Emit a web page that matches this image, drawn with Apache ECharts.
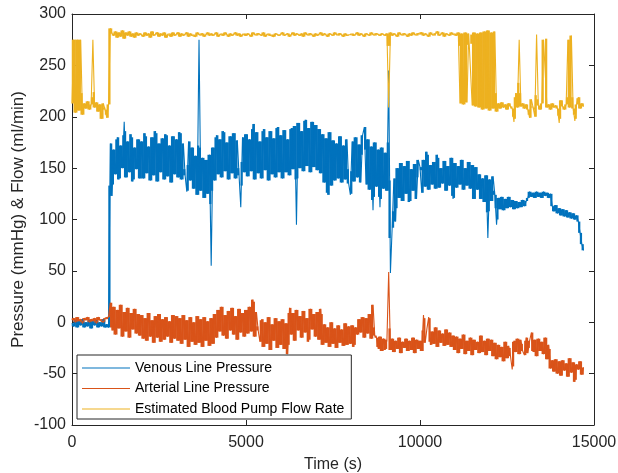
<!DOCTYPE html>
<html>
<head>
<meta charset="utf-8">
<script src="https://cdn.jsdelivr.net/npm/echarts@6/dist/echarts.min.js"></script>
<style>
html,body{margin:0;padding:0;background:#fff;}
#chart{width:618px;height:473px;}
</style>
</head>
<body>
<div id="chart"></div>
<script>
// Sampling interval of the recorded signals (seconds)
const sampleStep = 50;

const seriesNames = ['Venous Line Pressure', 'Arterial Line Pressure', 'Estimated Blood Pump Flow Rate'];
const xTicks = [0, 5000, 10000, 15000];
const yTicks = [-100, -50, 0, 50, 100, 150, 200, 250, 300];

// Venous line pressure (mmHg), one value per sample
const venous = [
  -1,-4,2,-5,1,-3,3,-5,0,-4,2,-6,1,-3,2,-5,0,-4,3,-5,
  -2,-5,174,123,168,144,180,139,172,150,195,141,176,146,183,137,170,149,178,140,
  176,140,184,145,171,138,180,143,186,137,174,146,179,139,183,142,172,136,181,144,
  178,141,185,139,174,143,127,176,138,170,130,162,124,275,128,160,121,158,125,163,
  55,170,138,182,144,178,141,186,147,175,139,181,145,184,140,177,143,112,180,146,
  183,142,178,147,193,139,185,145,176,140,188,148,180,138,186,144,179,141,190,146,
  182,140,187,146,178,143,189,149,191,95,194,150,186,147,197,152,189,146,195,151,
  192,148,188,145,183,136,179,124,185,133,177,138,174,140,181,136,172,139,178,135,
  124,176,137,180,141,173,136,182,190,134,178,129,171,109,175,132,168,112,170,130,
  165,128,245,48,92,140,98,150,121,155,118,152,125,157,117,149,128,154,120,158,
  151,126,158,132,166,129,153,134,156,130,163,131,150,135,157,128,152,133,160,120,
  155,131,152,134,158,129,150,133,156,130,153,120,151,129,144,120,140,117,143,82,
  139,118,142,124,95,121,110,122,109,120,111,122,112,119,110,118,111,117,112,119,
  113,118,121,127,122,126,121,127,122,126,121,127,123,126,121,125,113,108,114,106,
  111,104,110,103,109,102,107,101,106,100,104,98,87,76,70
];

// Arterial line pressure (mmHg)
const arterial = [
  2,4,0,5,1,3,-1,4,2,5,0,3,1,4,-1,5,2,3,0,4,
  3,5,19,-8,15,-12,12,-6,17,-14,10,-9,14,-15,9,-7,13,-11,8,-13,
  7,-16,4,-18,9,-14,2,-20,6,-15,8,-19,3,-17,5,-14,1,-20,7,-16,
  6,-18,4,-21,7,-17,2,-24,5,-19,0,-22,6,-20,3,-24,5,-18,1,-23,
  4,-21,8,-15,12,-9,15,-13,7,-16,11,-8,14,-12,6,-17,13,-10,9,-14,
  12,-11,15,-9,22,-14,10,-8,-19,3,-24,0,-21,5,-27,-2,-18,4,-25,1,
  -22,3,-26,-1,-31,14,-12,9,-18,12,-8,6,-15,11,-10,4,-19,13,-7,8,
  -14,10,-17,13,-22,-2,-20,-5,-24,0,-21,-6,-25,-3,-20,-7,-23,-1,-22,-4,
  -21,-3,-24,-5,-12,3,-10,5,-15,4,-11,8,-16,17,-13,-15,-26,-14,-28,-16,
  -27,-17,49,-27,-16,-29,-18,-26,-15,-30,-19,-25,-16,-28,-18,-27,-15,-30,-17,-26,
  -18,-28,7,-20,-6,5,-22,-9,-21,-5,-24,-8,-20,-11,-23,-7,-22,-10,-24,-13,
  -27,-14,-30,-16,-26,-12,-31,-18,-28,-15,-32,-17,-27,-19,-30,-13,-29,-18,-32,-16,
  -28,-17,-33,-20,-36,-22,-34,-24,-38,-19,-35,-23,-33,-46,-18,-29,-16,-31,-17,-28,
  -32,-15,-30,-18,-10,-29,-17,-33,-16,-28,-19,-31,-15,-36,-22,-45,-37,-48,-36,-50,
  -38,-52,-37,-47,-40,-53,-35,-49,-39,-58,-41,-46,-38,-51,-44
];

// Estimated blood pump flow rate (ml/min)
const flow = [
  213,275,204,275,206,275,202,213,208,215,207,212,275,209,214,205,212,198,213,207,
  199,212,286,281,279,283,277,282,278,284,276,282,279,283,278,281,277,282,279,281,
  280,278,282,279,281,277,283,279,280,282,278,281,279,282,277,280,281,278,282,279,
  280,282,278,281,279,280,282,278,281,279,280,278,282,280,279,281,278,280,282,279,
  281,279,280,282,278,280,281,279,282,280,278,281,279,280,282,279,281,278,280,281,
  279,281,280,278,282,280,279,281,280,279,282,278,280,281,279,280,278,281,280,279,
  280,282,279,280,281,278,280,282,279,281,280,279,281,278,282,280,279,281,280,278,
  281,279,280,282,279,281,280,278,281,280,279,282,280,279,281,280,278,281,279,280,
  280,281,279,280,282,279,281,280,278,281,280,279,282,280,279,281,280,279,281,280,
  279,281,209,282,279,281,280,278,282,280,279,281,280,278,281,279,282,280,279,281,
  280,282,279,281,280,278,282,280,279,281,283,279,280,282,278,281,280,279,282,280,
  281,279,282,213,281,212,282,214,281,280,211,282,210,281,209,282,207,283,208,284,
  206,282,208,283,205,213,208,214,209,212,207,213,210,208,195,223,209,275,210,213,
  208,212,207,199,217,209,200,280,211,207,213,275,276,209,212,207,213,209,211,208,
  194,216,210,207,212,275,209,279,208,196,212,219,208,213,210
];

const colors = ['#0072BD', '#D95319', '#EDB120'];

if (venous.length !== 295 || arterial.length !== 295 || flow.length !== 295) {
  throw new Error('length mismatch ' + venous.length + ' ' + arterial.length + ' ' + flow.length);
}

function toPairs(values) {
  return values.map((v, i) => [i * sampleStep, v]);
}

// Range covered by the signal between consecutive samples (the dense fill that a
// high-rate recording produces); one-sample spikes are left to the thin line.
const spikeTol = 10;
function toBands(values) {
  const out = [];
  for (let i = 0; i < values.length - 1; i++) {
    const a = values[i], b = values[i + 1];
    let lo = Math.min(a, b), hi = Math.max(a, b);
    if (i > 0 && i + 2 < values.length) {
      const c = values[i - 1], d = values[i + 2];
      hi = Math.min(hi, Math.max(c, d) + spikeTol);
      lo = Math.max(lo, Math.min(c, d) - spikeTol);
    }
    if (hi > lo) out.push([i * sampleStep, (i + 1) * sampleStep, lo, hi]);
  }
  return out;
}

const axisColor = '#262626';
const font = 'Liberation Sans, Arial, Helvetica, sans-serif';

function xAxisDef(pos, withLabels) {
  return {
    type: 'value', position: pos, min: xTicks[0], max: xTicks[xTicks.length - 1],
    interval: xTicks[1] - xTicks[0],
    axisLine: { show: true, onZero: false, lineStyle: { color: axisColor, width: 1 } },
    axisTick: { show: true, inside: true, length: 5, lineStyle: { color: axisColor } },
    splitLine: { show: false },
    axisLabel: { show: withLabels, color: axisColor, fontSize: 16, fontFamily: font, margin: 10,
      formatter: v => String(v) },
    name: withLabels ? 'Time (s)' : '',
    nameLocation: 'middle', nameGap: 32, nameMoveOverlap: false,
    nameTextStyle: { color: axisColor, fontSize: 16, fontFamily: font }
  };
}
function yAxisDef(pos, withLabels) {
  return {
    type: 'value', position: pos, min: yTicks[0], max: yTicks[yTicks.length - 1],
    interval: yTicks[1] - yTicks[0],
    axisLine: { show: true, onZero: false, lineStyle: { color: axisColor, width: 1 } },
    axisTick: { show: true, inside: true, length: 5, lineStyle: { color: axisColor } },
    splitLine: { show: false },
    axisLabel: { show: withLabels, color: axisColor, fontSize: 16, fontFamily: font, margin: 6,
      formatter: v => String(v) },
    name: withLabels ? 'Pressure (mmHg) & Flow (ml/min)' : '',
    nameLocation: 'middle', nameGap: 45, nameMoveOverlap: false,
    nameTextStyle: { color: axisColor, fontSize: 17, fontFamily: font }
  };
}

const allValues = [venous, arterial, flow];
const series = [];
seriesNames.forEach((name, k) => {
  const col = colors[k];
  series.push({
    name: name + ' band', type: 'custom', xAxisIndex: 0, yAxisIndex: 0,
    data: toBands(allValues[k]),
    encode: { x: [0, 1], y: [2, 3] },
    silent: true,
    renderItem: (params, api) => {
      const p0 = api.coord([api.value(0), api.value(3)]);
      const p1 = api.coord([api.value(1), api.value(2)]);
      return {
        type: 'rect',
        shape: { x: p0[0] - 0.25, y: p0[1], width: p1[0] - p0[0] + 0.5, height: p1[1] - p0[1] },
        style: { fill: col }
      };
    }
  });
  series.push({
    name: name, type: 'line', xAxisIndex: 0, yAxisIndex: 0,
    data: toPairs(allValues[k]),
    showSymbol: false, symbol: 'none',
    color: col,
    lineStyle: { color: col, width: 1.1 },
    emphasis: { disabled: true }
  });
});

const chart = echarts.init(document.getElementById('chart'), null, { renderer: 'canvas' });
chart.setOption({
  animation: false,
  backgroundColor: '#ffffff',
  grid: { left: 72, right: 24, top: 14, bottom: 48, containLabel: false, outerBoundsMode: 'none' },
  xAxis: [xAxisDef('bottom', true), xAxisDef('top', false)],
  yAxis: [yAxisDef('left', true), yAxisDef('right', false)],
  legend: {
    orient: 'vertical', left: 77, top: 355,
    data: seriesNames,
    icon: 'path://M0,0H48V1H0Z',
    backgroundColor: '#ffffff', borderColor: axisColor, borderWidth: 1,
    padding: [6, 7, 3, 5], itemGap: 6.5, itemWidth: 48, itemHeight: 14,
    textStyle: { color: '#000', fontSize: 14, fontFamily: font }
  },
  series: series
});
</script>
</body>
</html>
